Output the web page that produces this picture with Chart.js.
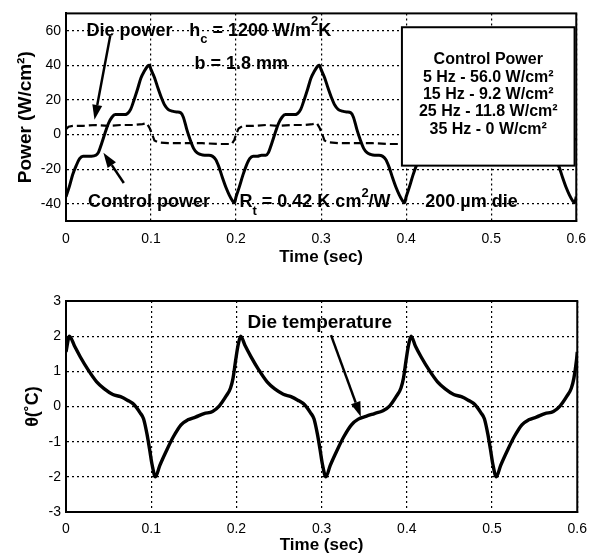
<!DOCTYPE html>
<html>
<head>
<meta charset="utf-8">
<script src="https://cdn.jsdelivr.net/npm/chart.js@4.4.1/dist/chart.umd.min.js"></script>
<style>
    html, body { margin: 0; padding: 0; background: #fff; }
    canvas { position: absolute; left: 0; }
</style>
</head>
<body>
<canvas id="powerChart" width="596" height="280" style="top:0"></canvas>
<canvas id="tempChart" width="596" height="280" style="top:280px"></canvas>
<script>
// axis ticks
const timeTicks = [0, 0.1, 0.2, 0.3, 0.4, 0.5, 0.6];
const powerTicks = [-40, -20, 0, 20, 40, 60];
const tempTicks = [-3, -2, -1, 0, 1, 2, 3];

// control power (W/cm2)
const controlTime = [
    0, 0.004, 0.008, 0.012, 0.016, 0.02, 0.025, 0.03, 0.035, 0.038, 0.042, 0.046, 0.05, 0.054, 0.058, 0.063, 0.068, 0.072, 0.076, 0.08, 0.084, 0.088, 0.092, 0.096, 0.098,
    0.1, 0.104, 0.108, 0.112, 0.116, 0.12, 0.125, 0.13, 0.135, 0.138, 0.142, 0.146, 0.15, 0.154, 0.158, 0.163, 0.168, 0.172, 0.176, 0.18, 0.184, 0.188, 0.192, 0.196, 0.198,
    0.2, 0.204, 0.208, 0.212, 0.216, 0.22, 0.225, 0.23, 0.235, 0.238, 0.242, 0.246, 0.25, 0.254, 0.258, 0.263, 0.268, 0.272, 0.276, 0.28, 0.284, 0.288, 0.292, 0.296, 0.298,
    0.3, 0.304, 0.308, 0.312, 0.316, 0.32, 0.325, 0.33, 0.335, 0.338, 0.342, 0.346, 0.35, 0.354, 0.358, 0.363, 0.368, 0.372, 0.376, 0.38, 0.384, 0.388, 0.392, 0.396, 0.398,
    0.4, 0.404, 0.408, 0.412, 0.416, 0.42, 0.425, 0.43, 0.435, 0.438, 0.442, 0.446, 0.45, 0.454, 0.458, 0.463, 0.468, 0.472, 0.476, 0.48, 0.484, 0.488, 0.492, 0.496, 0.498,
    0.5, 0.504, 0.508, 0.512, 0.516, 0.52, 0.525, 0.53, 0.535, 0.538, 0.542, 0.546, 0.55, 0.554, 0.558, 0.563, 0.568, 0.572, 0.576, 0.58, 0.584, 0.588, 0.592, 0.596, 0.598, 0.6
];
const controlPower = [
    -36, -30, -23, -18, -14, -12.5, -12.5, -12.5, -12, -10.5, -5, 1, 6.5, 10, 11.5, 11.5, 11.5, 12, 14.5, 20, 26, 32.5, 36.5, 39.5, 40,
    37.5, 33, 27, 21.5, 17, 14.5, 13.5, 13, 12.5, 10, 3, -3, -8, -10.5, -11.5, -12, -12, -12.5, -14.5, -19, -25, -30.5, -35, -38.5, -39.5,
    -36, -30, -23.5, -18, -14, -12.5, -12.5, -12, -12, -10.5, -5, 1, 6.5, 10, 11.5, 11.5, 11.5, 12, 14.5, 20, 26, 32.5, 36.5, 39.5, 40,
    37.5, 33, 27, 21.5, 17, 14.5, 13.5, 13, 12.5, 10, 3, -3, -8, -10.5, -11.5, -12, -12, -12.5, -14.5, -19, -25, -30.5, -35, -38.5, -39.5,
    -36, -30, -23.5, -18, -14, -12.5, -12.5, -12, -12, -10.5, -5, 1, 6.5, 10, 11.5, 11.5, 11.5, 12, 14.5, 20, 26, 32.5, 36.5, 39.5, 40,
    37.5, 33, 27, 21.5, 17, 14.5, 13.5, 13, 12.5, 10, 3, -3, -8, -10.5, -11.5, -12, -12, -12.5, -14.5, -19, -25, -30.5, -35, -38.5, -39.5, -36
];

// die power (W/cm2), dashed
const dieTime = [
    0, 0.003, 0.008, 0.02, 0.035, 0.05, 0.065, 0.08, 0.09, 0.095, 0.098, 0.101, 0.104, 0.108, 0.12, 0.14, 0.16, 0.18, 0.195, 0.198,
    0.2, 0.203, 0.208, 0.22, 0.235, 0.25, 0.265, 0.28, 0.29, 0.295, 0.298, 0.301, 0.304, 0.308, 0.32, 0.34, 0.36, 0.38, 0.395, 0.398,
    0.4, 0.403, 0.408, 0.42, 0.435, 0.45, 0.465, 0.48, 0.49, 0.495, 0.498, 0.501, 0.504, 0.508, 0.52, 0.54, 0.56, 0.58, 0.595, 0.598, 0.6
];
const diePower = [
    3, 4.5, 5, 5, 5.5, 5, 5.5, 5.5, 6, 6.5, 4, 0.5, -3.5, -4.5, -5, -5, -5, -5.5, -5.5, -3,
    0, 3.5, 5, 5, 5.5, 5, 5.5, 5.5, 6, 6.5, 4, 0.5, -3.5, -4.5, -5, -5, -5, -5.5, -5.5, -3,
    0, 3.5, 5, 5, 5.5, 5, 5.5, 5.5, 6, 6.5, 4, 0.5, -3.5, -4.5, -5, -5, -5, -5.5, -5.5, -3, 0
];

// die temperature (deg C)
const tempTime = [
    0, 0.004, 0.01, 0.017, 0.026, 0.036, 0.045, 0.055, 0.064, 0.072, 0.08, 0.087, 0.091, 0.095, 0.098, 0.101, 0.105,
    0.11, 0.118, 0.126, 0.135, 0.143, 0.152, 0.162, 0.172, 0.18, 0.188, 0.193, 0.196, 0.199, 0.202,
    0.205, 0.21, 0.217, 0.226, 0.236, 0.245, 0.255, 0.264, 0.272, 0.28, 0.287, 0.291, 0.295, 0.298, 0.301, 0.305,
    0.31, 0.318, 0.326, 0.335, 0.343, 0.352, 0.362, 0.372, 0.38, 0.388, 0.393, 0.396, 0.399, 0.402,
    0.405, 0.41, 0.417, 0.426, 0.436, 0.445, 0.455, 0.464, 0.472, 0.48, 0.487, 0.491, 0.495, 0.498, 0.501, 0.505,
    0.51, 0.518, 0.526, 0.535, 0.543, 0.552, 0.562, 0.572, 0.58, 0.588, 0.593, 0.596, 0.599, 0.6
];
const dieTemp = [
    1.55, 2.0, 1.72, 1.4, 1.04, 0.7, 0.5, 0.34, 0.28, 0.18, 0.05, -0.18, -0.35, -0.78, -1.2, -1.65, -2.0,
    -1.68, -1.25, -0.86, -0.52, -0.38, -0.3, -0.2, -0.14, 0.02, 0.3, 0.52, 0.8, 1.3, 1.75,
    2.0, 1.74, 1.42, 1.05, 0.7, 0.5, 0.35, 0.28, 0.18, 0.05, -0.18, -0.35, -0.78, -1.2, -1.65, -2.0,
    -1.68, -1.25, -0.86, -0.52, -0.36, -0.28, -0.2, -0.12, 0.02, 0.3, 0.52, 0.8, 1.3, 1.75,
    2.0, 1.72, 1.4, 1.04, 0.7, 0.5, 0.34, 0.28, 0.18, 0.05, -0.18, -0.35, -0.78, -1.2, -1.65, -2.0,
    -1.68, -1.25, -0.86, -0.52, -0.38, -0.3, -0.2, -0.14, 0.02, 0.3, 0.52, 0.8, 1.3, 1.55
];

// text placed in data units: [x, y, parts]; part = [text, 'sub' | 'sup' | '']
const powerNotes = [
    [0.024, 60, [['Die power', '']]],
    [0.145, 60, [['h', ''], ['c', 'sub'], [' = 1200 W/m', ''], ['2', 'sup'], ['K', '']]],
    [0.151, 41, [['b = 1.8 mm', '']]],
    [0.026, -39, [['Control power', '']]],
    [0.204, -39, [['R', ''], ['t', 'sub'], [' = 0.42 K cm', ''], ['2', 'sup'], ['/W', '']]],
    [0.4225, -39, [['200 \u00b5m die', '']]]
];
const powerArrows = [
    [0.052, 57, 0.0335, 8.5],
    [0.068, -28, 0.044, -10.5]
];
const legendTitle = 'Control Power';
const legendLines = ['5 Hz - 56.0 W/cm\u00b2', '15 Hz - 9.2 W/cm\u00b2', '25 Hz - 11.8 W/cm\u00b2', '35 Hz - 0 W/cm\u00b2'];
const legendBox = {x0: 0.395, x1: 0.598, y0: -18, y1: 62, cx: 0.4965, rows: [43.2, 33, 23, 13.2, 3]};

const tempNotes = [
    [0.213, 2.37, [['Die temperature', '']]]
];
const tempArrows = [
    [0.311, 2.03, 0.346, -0.29]
];

const FONT = '"Liberation Sans", Arial, Helvetica, sans-serif';
Chart.defaults.font.family = FONT;
Chart.defaults.color = '#000';

function _points(xs, ys) {
    return xs.map((x, i) => ({x: x, y: ys[i]}));
}

function _drawNote(ctx, px, py, parts, size) {
    let cx = px;
    ctx.textAlign = 'left';
    ctx.textBaseline = 'middle';
    parts.forEach(([text, mode]) => {
        ctx.font = 'bold ' + (mode ? Math.round(size * 0.7) : size) + 'px ' + FONT;
        let dy = mode === 'sub' ? size * 0.5 : (mode === 'sup' ? -size * 0.5 : 0);
        ctx.fillText(text, cx, py + dy);
        cx += ctx.measureText(text).width;
    });
}

function _drawArrow(ctx, x0, y0, x1, y1) {
    const ang = Math.atan2(y1 - y0, x1 - x0);
    const len = 15, half = 5;
    const c = Math.cos(ang), s = Math.sin(ang);
    const bx = x1 - len * c, by = y1 - len * s;
    ctx.lineWidth = 2.5;
    ctx.beginPath();
    ctx.moveTo(x0, y0);
    ctx.lineTo(bx, by);
    ctx.stroke();
    ctx.beginPath();
    ctx.moveTo(x1, y1);
    ctx.lineTo(bx + half * s, by - half * c);
    ctx.lineTo(bx - half * s, by + half * c);
    ctx.closePath();
    ctx.fill();
}

const overlayPlugin = {
    id: 'overlay',
    afterDatasetsDraw(chart, args, opts) {
        const {ctx, chartArea: area, scales: {x, y}} = chart;
        ctx.save();
        ctx.strokeStyle = '#000';
        ctx.fillStyle = '#000';
        ctx.lineWidth = 2;
        ctx.strokeRect(area.left, area.top, area.right - area.left, area.bottom - area.top);

        if (opts.box) {
            const b = opts.box;
            const left = x.getPixelForValue(b.x0), right = x.getPixelForValue(b.x1);
            const top = y.getPixelForValue(b.y1), bottom = y.getPixelForValue(b.y0);
            ctx.fillStyle = '#fff';
            ctx.fillRect(left, top, right - left, bottom - top);
            ctx.lineWidth = 2;
            ctx.strokeRect(left, top, right - left, bottom - top);
            ctx.fillStyle = '#000';
            ctx.font = 'bold 16px ' + FONT;
            ctx.textAlign = 'center';
            ctx.textBaseline = 'middle';
            [legendTitle].concat(legendLines).forEach((line, i) => {
                ctx.fillText(line, x.getPixelForValue(b.cx), y.getPixelForValue(b.rows[i]));
            });
        }

        opts.notes.forEach(n => {
            _drawNote(ctx, x.getPixelForValue(n[0]), y.getPixelForValue(n[1]), n[2], opts.noteSize);
        });
        opts.arrows.forEach(a => {
            _drawArrow(ctx, x.getPixelForValue(a[0]), y.getPixelForValue(a[1]),
                x.getPixelForValue(a[2]), y.getPixelForValue(a[3]));
        });
        ctx.restore();
    }
};

function _createPlot(elementId, datasets, yAxis, overlay, layout) {
    return new Chart(document.getElementById(elementId), {
        type: 'line',
        data: {
            datasets: datasets
        },
        plugins: [overlayPlugin],
        options: {
            responsive: false,
            animation: false,
            layout: {
                padding: {left: 0, right: 17, top: layout.top, bottom: 0}
            },
            elements: {
                point: {radius: 0}
            },
            scales: {
                x: {
                    type: 'linear',
                    min: 0,
                    max: 0.6,
                    afterBuildTicks: axis => { axis.ticks = timeTicks.map(v => ({value: v})); },
                    afterFit: axis => { axis.height = layout.xHeight; },
                    grid: {
                        color: '#000',
                        lineWidth: 1.2,
                        drawTicks: false
                    },
                    border: {
                        display: true,
                        color: '#000',
                        width: 2,
                        dash: [2, 3]
                    },
                    ticks: {
                        padding: layout.tickPad,
                        font: {size: 14},
                        callback: value => String(Number(value.toFixed(1)))
                    },
                    title: {
                        display: true,
                        text: 'Time (sec)',
                        font: {size: 17, weight: 'bold'},
                        padding: {top: 0, bottom: layout.titlePad}
                    }
                },
                y: {
                    min: yAxis.min,
                    max: yAxis.max,
                    afterBuildTicks: axis => { axis.ticks = yAxis.ticks.map(v => ({value: v})); },
                    afterFit: axis => { axis.width = 66; },
                    grid: {
                        color: '#000',
                        lineWidth: 1.2,
                        drawTicks: false
                    },
                    border: {
                        display: true,
                        color: '#000',
                        width: 2,
                        dash: [2, 3]
                    },
                    ticks: {
                        padding: 5,
                        font: {size: 14}
                    },
                    title: {
                        display: true,
                        text: yAxis.title,
                        font: {size: yAxis.titleSize, weight: 'bold'},
                        padding: {top: yAxis.titlePad, bottom: 0}
                    }
                }
            },
            plugins: {
                legend: {display: false},
                tooltip: {enabled: false},
                overlay: overlay
            }
        }
    });
}

_createPlot('powerChart', [
    {
        label: 'Die power',
        data: _points(dieTime, diePower),
        borderColor: '#000',
        borderWidth: 2.2,
        borderDash: [8, 4]
    },
    {
        label: 'Control power',
        data: _points(controlTime, controlPower),
        borderColor: '#000',
        borderWidth: 3,
        cubicInterpolationMode: 'monotone'
    }
], {min: -50, max: 70, ticks: powerTicks, title: 'Power (W/cm\u00b2)', titleSize: 19, titlePad: 14},
{notes: powerNotes, arrows: powerArrows, box: legendBox, noteSize: 18},
{top: 9, xHeight: 59, tickPad: 10, titlePad: 12});

_createPlot('tempChart', [
    {
        label: 'Die temperature',
        data: _points(tempTime, dieTemp),
        borderColor: '#000',
        borderWidth: 3.4,
        cubicInterpolationMode: 'monotone'
    }
], {min: -3, max: 3, ticks: tempTicks, title: '\u03b8(\u02daC)', titleSize: 18, titlePad: 22},
{notes: tempNotes, arrows: tempArrows, box: null, noteSize: 19},
{top: 21, xHeight: 48, tickPad: 9, titlePad: 4});
</script>
</body>
</html>
